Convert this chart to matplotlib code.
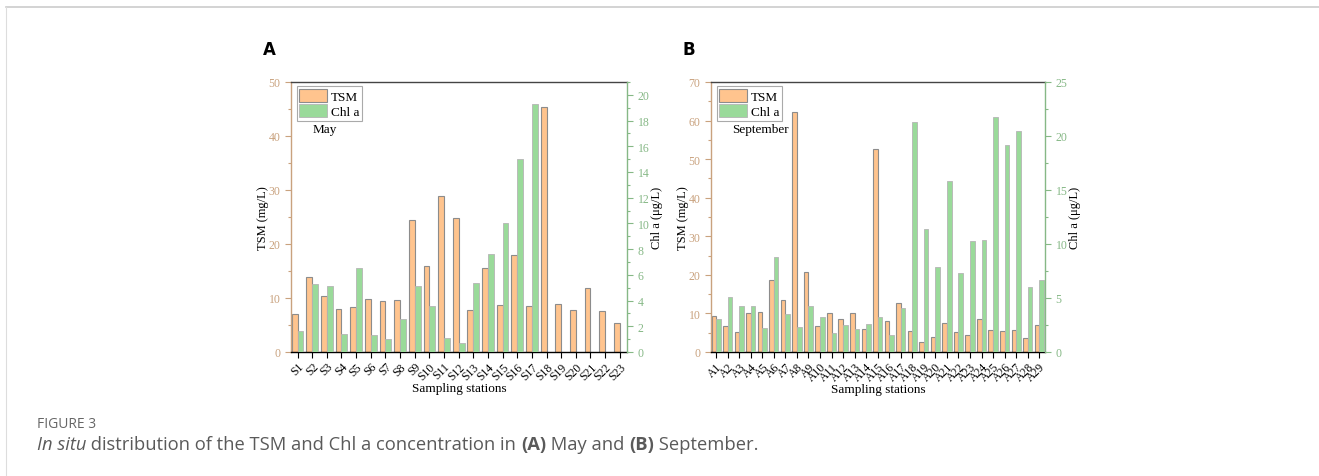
import numpy as np
import matplotlib.pyplot as plt
from matplotlib.lines import Line2D
from matplotlib.ticker import MultipleLocator

# ---- data ----
stations_may = ['S%d' % i for i in range(1, 24)]
tsm_may = [7.0, 13.9, 10.3, 7.9, 8.3, 9.8, 9.5, 9.7, 24.4, 16.0, 28.9, 24.8,
           7.7, 15.6, 8.7, 18.0, 8.5, 45.4, 8.9, 7.7, 11.9, 7.5, 5.3]
chl_may = [1.6, 5.3, 5.1, 1.4, 6.5, 1.3, 1.0, 2.6, 5.1, 3.6, 1.1, 0.7,
           5.4, 7.6, 10.0, 15.0, 19.3, 0, 0, 0, 0, 0, 0]

stations_sep = ['A%d' % i for i in range(1, 30)]
tsm_sep = [9.4, 6.8, 5.3, 10.1, 10.3, 18.6, 13.4, 62.3, 20.7, 6.7, 10.0, 8.6,
           10.0, 6.0, 52.6, 8.0, 12.7, 5.5, 2.5, 4.0, 7.4, 5.1, 4.3, 8.5,
           5.8, 5.5, 5.8, 3.6, 6.9]
chl_sep = [3.1, 5.1, 4.3, 4.3, 2.2, 8.8, 3.5, 2.3, 4.3, 3.2, 1.8, 2.5,
           2.1, 2.6, 3.2, 1.6, 4.1, 21.3, 11.4, 7.9, 15.8, 7.3, 10.3, 10.4,
           21.8, 19.2, 20.5, 6.0, 6.7]

TSM_COLOR = '#FFC48E'
CHL_COLOR = '#9ADA9A'
TAN = '#C9A27E'
GREEN = '#86B886'

plt.rcParams['font.family'] = ['Liberation Serif', 'DejaVu Serif']

fig = plt.figure(figsize=(13.19, 4.77), dpi=100)


def panel(rect, stations, tsm, chl, tsm_max, chl_max, chl_major, month, letter):
    ax = fig.add_axes(rect)
    ax2 = ax.twinx()
    x = np.arange(1, len(stations) + 1)
    w = 0.4
    b1 = ax.bar(x - w / 2, tsm, w, color=TSM_COLOR, edgecolor='#8c8c8c', linewidth=0.8, label='TSM')
    b2 = ax2.bar(x + w / 2, chl, w, color=CHL_COLOR, edgecolor='#b5b5b5', linewidth=0.6, label='Chl a')
    ax.set_xlim(0.55, len(stations) + 0.5)
    ax.set_ylim(0, tsm_max)
    ax2.set_ylim(0, chl_max)

    ax.set_xticks(x)
    ax.set_xticklabels(stations, rotation=45, ha='right', rotation_mode='anchor', fontsize=8.5)
    ax.tick_params(axis='x', direction='out', length=4, width=0.8, pad=2)
    ax.yaxis.set_major_locator(MultipleLocator(10))
    ax.yaxis.set_minor_locator(MultipleLocator(5))
    ax.tick_params(axis='y', which='both', colors=TAN, labelsize=8.5, width=0.8)
    ax.tick_params(axis='y', which='major', length=4)
    ax.tick_params(axis='y', which='minor', length=2.5)
    ax2.yaxis.set_major_locator(MultipleLocator(chl_major))
    ax2.yaxis.set_minor_locator(MultipleLocator(chl_major / 2))
    ax2.tick_params(axis='y', which='both', colors=GREEN, labelsize=8.5, width=0.8)
    ax2.tick_params(axis='y', which='major', length=4)
    ax2.tick_params(axis='y', which='minor', length=2.5)

    ax.spines['left'].set_color(TAN)
    ax.spines['right'].set_visible(False)
    ax.spines['top'].set_color('#444444')
    ax2.spines['left'].set_visible(False)
    ax2.spines['top'].set_visible(False)
    ax2.spines['bottom'].set_visible(False)
    ax2.spines['right'].set_color(GREEN)
    for s in ax.spines.values():
        s.set_linewidth(1.0)
    ax2.spines['right'].set_linewidth(1.0)

    ax.set_ylabel('TSM (mg/L)', fontsize=9, labelpad=0)
    ax2.set_ylabel('Chl a (μg/L)', fontsize=9, labelpad=1)
    ax.set_xlabel('Sampling stations', fontsize=9.5, labelpad=0)

    leg = ax.legend([b1, b2], ['TSM', 'Chl a'], loc='upper left', bbox_to_anchor=(0.005, 1.0),
                    fontsize=9.5, fancybox=False, framealpha=1, edgecolor='#aaaaaa',
                    handlelength=2.1, handleheight=1.15, borderpad=0.2, labelspacing=0.1,
                    handletextpad=0.3, borderaxespad=0.3)
    leg.get_frame().set_linewidth(0.8)
    ax.text(0.063, 0.826, month, transform=ax.transAxes, fontsize=9.5, va='center', ha='left')

    fig.text(rect[0] - 0.0165, 0.895, letter, fontsize=12, fontweight='bold',
             family='DejaVu Sans', ha='center', va='center')
    return ax, ax2


panel([0.2206, 0.26, 0.2548, 0.566], stations_may, tsm_may, chl_may, 50, 21, 2, 'May', 'A')
panel([0.539, 0.26, 0.2533, 0.566], stations_sep, tsm_sep, chl_sep, 70, 25, 5, 'September', 'B')

# page frame lines
fig.add_artist(Line2D([6 / 1319, 1], [1 - 8 / 477, 1 - 8 / 477], transform=fig.transFigure,
                      color='#cccccc', linewidth=1.2))
fig.add_artist(Line2D([6 / 1319, 6 / 1319], [0, 1 - 8 / 477], transform=fig.transFigure,
                      color='#dddddd', linewidth=0.8))

# caption
cap_font = ['Open Sans', 'DejaVu Sans']
fig.text(37 / 1319, 1 - 425 / 477, 'FIGURE 3', fontsize=10, color='#666666', family=cap_font,
         va='center', ha='left')

renderer = fig.canvas.get_renderer()
parts = [('In situ', 'italic', 'normal'),
         (' distribution of the TSM and Chl a concentration in ', 'normal', 'normal'),
         ('(A)', 'normal', 'bold'),
         (' May and ', 'normal', 'normal'),
         ('(B)', 'normal', 'bold'),
         (' September.', 'normal', 'normal')]
xpos = 37
for s, st, wt in parts:
    t = fig.text(xpos / 1319, 1 - 445 / 477, s, fontsize=13.2, color='#5a5a5a', family=cap_font,
                 style=st, fontweight=wt, va='center', ha='left')
    bb = t.get_window_extent(renderer)
    xpos += bb.width

fig.savefig('out.png', dpi=100)
